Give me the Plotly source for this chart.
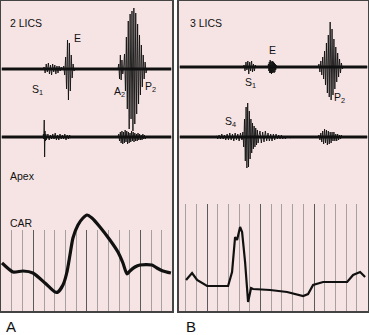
import plotly.graph_objects as go

# ---------------- data (time in ms, amplitude in arbitrary units) ----------------
# Panel A
A_range = [79, 718]
A_lics_base = 242
A_lics_bursts = [  # (start ms, step ms, amplitudes)
    (236, 4.0, [2, -4, 5, -3, 6, -5, 4, -6, 5, -3, 4, -5, 3, -4, 3, -2, 2]),
    (310, 3.5, [3, -6, 12, -20, 29, -31, 26, -22, 14, -9, 5, -2]),
    (516, 3.0, [5, -10, 14, -11, 9, -5]),
    (537, 3.5, [15, -22, 32, -40, 48, -60, 55, -50, 58, -62, 61, -55, 56, -45, 45, -35, 34, -26,
                24, -18, 14, -10, 7, -4]),
]
A_second_base = 174
A_second_bursts = [
    (236, 1.5, [3, -2, 17, -20, 6, -4, 3, -3]),
    (250, 4.5, [3, -3, 2, -2, 3, -2, 4, -3, 2, -3, 3, -2, 2, -2, 3, -3, 2, -2, 2, -1]),
    (516, 3.0, [3, -4, 5, -6, 6, -7, 5, -6, 7, -5, 6, -7, 5, -6, 4, -5, 6, -4, 5, -5, 4, -4,
                3, -4, 4, -3, 3, -3, 2, -3, 3, -2, 2, -2, 1, -1]),
]
A_car_t = [82.7, 123.8, 161.2, 198.5, 243.3, 280.7, 291.9, 310.6, 325.5, 336.7, 347.9, 366.6,
           385.3, 400.2, 418.9, 448.8, 486.1, 516, 534.7, 549.6, 560.8, 579.5, 598.2, 643,
           661.6, 684, 714]
A_car_v = [48, 39, 40, 38, 28, 19, 19, 26, 39, 56, 73, 86, 93, 96, 93, 84, 71, 59, 48, 37,
           40, 44, 46, 46, 43, 40, 38]

# Panel B
B_range = [95, 802]
B_lics_base = 244
B_lics_bursts = [
    (335, 3.5, [2, -4, 5, -3, 6, -7, 5, -4, 6, -5, 3, -4, 2, -1]),
    (428, 1.6, [3, -4, 5, -6, 7, -6, 6, -7, 5, -6, 6, -5, 5, -6, 4, -5, 3, -3, 2, -1]),
    (615, 3.5, [3, -5, 6, -8, 10, -12, 16, -18, 24, -26, 32, -30, 45, -33, 38, -28, 28, -22,
                20, -15, 14, -10, 8, -6, 4, -2]),
]
B_second_base = 174
B_second_bursts = [
    (230, 5.0, [1, -2, 2, -2, 3, -2, 2, -3, 3, -3, 4, -3, 3, -4, 4, -3, 3, -4, 4, -3]),
    (331, 3.0, [5, -10, 18, -24, 30, -31, 34, -30, 26, -22, 18, -16, 14, -12, 11, -10, 9, -8,
                7, -6]),
    (393, 5.0, [6, -6, 5, -5, 6, -4, 4, -4, 3, -4, 3, -3, 3, -2, 2, -2, 2, -2, 1, -2, 1, -1, 1, -1]),
    (615, 3.5, [2, -3, 4, -5, 6, -7, 8, -6, 7, -8, 6, -7, 5, -6, 5, -4, 5, -4, 3, -4, 3, -3, 2,
                -2, 2, -1, 1]),
]
B_car_t = [121.4, 143.9, 162.6, 200, 278.6, 293.5, 304.8, 312.3, 323.5, 331, 342.2, 353.4,
           364.6, 372.1, 435.7, 499.4, 559.2, 577.9, 596.6, 634.1, 723.9, 746.3, 772.5, 791.2]
B_car_v = [31, 38, 31, 25, 25, 39, 74, 71, 84, 79, 49, 9, 23, 22, 21, 19, 15, 17, 26, 29, 29,
           36, 39, 34]

# ---------------- helpers ----------------
def build(bursts, t0, t1, base):
    xs, ys = [t0], [base]
    for start, step, amps in bursts:
        xs.append(start); ys.append(base)
        for i, a in enumerate(amps):
            xs.append(start + step * (i + 1)); ys.append(base + a)
        xs.append(start + step * (len(amps) + 1)); ys.append(base)
    xs.append(t1); ys.append(base)
    return xs, ys

W, H = 369, 335
def px_x(p): return p / W
def px_y(p): return (H - p) / H

fig = go.Figure()

A_dom = [px_x(1), px_x(172)]
B_dom = [px_x(179), px_x(368)]
main_y = [px_y(311), px_y(1)]
A_grid_y = [px_y(311), px_y(230)]
B_grid_y = [px_y(311), px_y(204)]

pink = "#f6e4e4"
for dom in (A_dom, B_dom):
    fig.add_shape(type="rect", xref="paper", yref="paper", x0=dom[0], x1=dom[1],
                  y0=main_y[0], y1=main_y[1], fillcolor=pink, line=dict(width=0), layer="below")

ink = "#111111"
fig.add_trace(go.Scatter(x=A_range, y=[0, 1], mode="lines", line=dict(width=0),
                         hoverinfo="skip", showlegend=False, xaxis="x", yaxis="y"))
fig.add_trace(go.Scatter(x=B_range, y=[0, 1], mode="lines", line=dict(width=0),
                         hoverinfo="skip", showlegend=False, xaxis="x2", yaxis="y2"))

def add_channel(bursts, rng, base, xa, ya):
    xs, ys = build(bursts, rng[0] + 3, rng[1] - 3, base)
    fig.add_trace(go.Scatter(x=[rng[0] + 3, rng[1] - 3], y=[base, base], mode="lines",
                             line=dict(color=ink, width=3), hoverinfo="skip",
                             showlegend=False, xaxis=xa, yaxis=ya))
    fig.add_trace(go.Scatter(x=xs, y=ys, mode="lines", line=dict(color=ink, width=0.9),
                             hoverinfo="skip", showlegend=False, xaxis=xa, yaxis=ya))

add_channel(A_lics_bursts, A_range, A_lics_base, "x3", "y3")
add_channel(A_second_bursts, A_range, A_second_base, "x3", "y3")
add_channel(B_lics_bursts, B_range, B_lics_base, "x4", "y4")
add_channel(B_second_bursts, B_range, B_second_base, "x4", "y4")

fig.add_trace(go.Scatter(x=A_car_t, y=A_car_v, mode="lines",
                         line=dict(color=ink, width=3.2, shape="spline", smoothing=0.6),
                         hoverinfo="skip", showlegend=False, xaxis="x3", yaxis="y3"))
fig.add_trace(go.Scatter(x=B_car_t, y=B_car_v, mode="lines", line=dict(color=ink, width=2.2),
                         hoverinfo="skip", showlegend=False, xaxis="x4", yaxis="y4"))

hidden = dict(showticklabels=False, ticks="", zeroline=False, fixedrange=True)
grid_x = dict(hidden, showgrid=True, dtick=200, tick0=0, gridcolor="#5a5a5a", gridwidth=1,
              minor=dict(dtick=40, tick0=0, showgrid=True, gridcolor="#a8a0a0", gridwidth=1),
              showline=False)
fig.update_layout(
    width=W, height=H, margin=dict(l=0, r=0, t=0, b=0),
    paper_bgcolor="white", plot_bgcolor="rgba(0,0,0,0)",
    xaxis=dict(grid_x, domain=A_dom, range=A_range),
    yaxis=dict(hidden, showgrid=False, domain=A_grid_y, range=[0, 1]),
    xaxis2=dict(grid_x, domain=B_dom, range=B_range),
    yaxis2=dict(hidden, showgrid=False, domain=B_grid_y, range=[0, 1]),
    xaxis3=dict(hidden, showgrid=False, domain=A_dom, range=A_range, showline=True, mirror=True,
                linecolor="#444", linewidth=1.5, anchor="y3"),
    yaxis3=dict(hidden, showgrid=False, domain=main_y, range=[0, 310], showline=True, mirror=True,
                linecolor="#444", linewidth=1.5, anchor="x3"),
    xaxis4=dict(hidden, showgrid=False, domain=B_dom, range=B_range, showline=True, mirror=True,
                linecolor="#444", linewidth=1.5, anchor="y4"),
    yaxis4=dict(hidden, showgrid=False, domain=main_y, range=[0, 310], showline=True, mirror=True,
                linecolor="#444", linewidth=1.5, anchor="x4"),
    font=dict(family="Liberation Sans, Arial, sans-serif", color="#111", size=10.5),
)

def label(text, x, y, xa, ya, xanchor="left", size=10.5):
    fig.add_annotation(text=text, x=x, y=y, xref=xa, yref=ya, showarrow=False,
                       xanchor=xanchor, yanchor="middle", font=dict(size=size))

label("2 LICS", 105, 288, "x3", "y3")
label("E", 366.6, 273, "x3", "y3", "center")
label("S<sub>1</sub>", 187, 221, "x3", "y3")
label("A<sub>2</sub>", 493.6, 219, "x3", "y3")
label("P<sub>2</sub>", 609.4, 224, "x3", "y3")
label("Apex", 105, 135, "x3", "y3")
label("CAR", 105, 88, "x3", "y3")

label("3 LICS", 128.9, 288, "x4", "y4")
label("E", 443.2, 261, "x4", "y4", "center")
label("S<sub>1</sub>", 334.7, 228, "x4", "y4")
label("P<sub>2</sub>", 667.8, 213, "x4", "y4")
label("S<sub>4</sub>", 259.9, 189, "x4", "y4")

fig.add_annotation(text="A", x=px_x(4), y=px_y(326), xref="paper", yref="paper", showarrow=False,
                   xanchor="left", yanchor="middle", font=dict(size=15))
fig.add_annotation(text="B", x=px_x(184), y=px_y(326), xref="paper", yref="paper", showarrow=False,
                   xanchor="left", yanchor="middle", font=dict(size=15))

fig.write_html("out.html")
